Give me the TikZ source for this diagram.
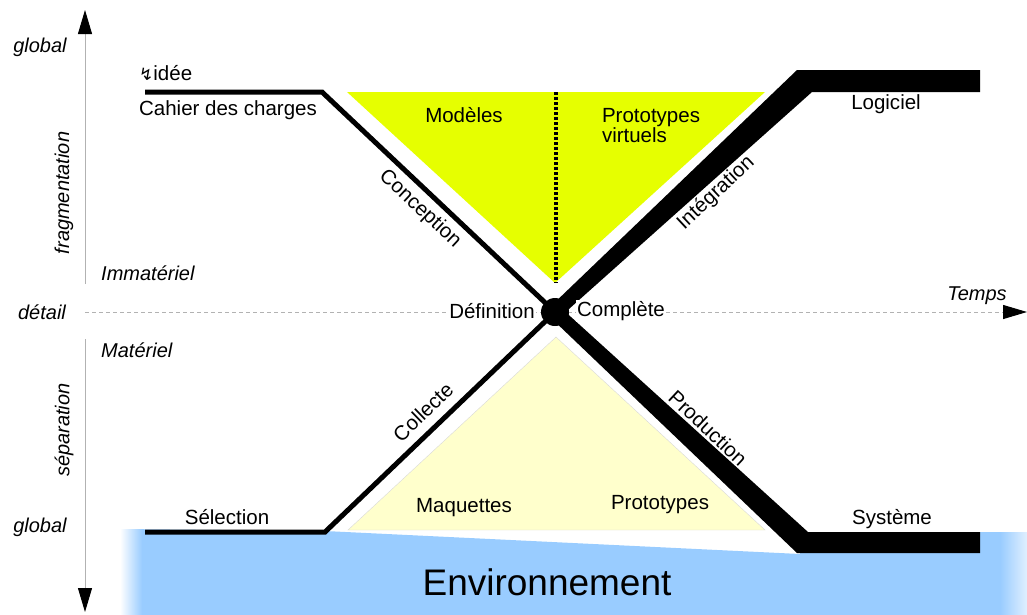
\documentclass[tikz,border=0pt]{standalone}
\usepackage{fontspec}
\setmainfont{Liberation Sans}
\newfontfamily\symfont{DejaVu Sans}
\usetikzlibrary{arrows.meta}
\definecolor{modelyellow}{RGB}{230,255,0}
\definecolor{maquetteyellow}{RGB}{255,255,204}
\definecolor{envblue}{RGB}{153,204,255}
\tikzset{
  lbl/.style={font=\fontsize{20.5}{20}\selectfont, inner sep=1pt},
  axlbl/.style={font=\fontsize{20}{20}\selectfont\itshape, inner sep=1pt},
  axisline/.style={draw=black!30, line width=1pt},
  tiptri/.style={-{Triangle[width=14pt,length=24pt,black]}},
  thinpath/.style={line width=5pt, line join=miter},
}
\begin{document}
\begin{tikzpicture}[x=1pt,y=-1pt]
\useasboundingbox (0,0) rectangle (1027,614);
% axes
\draw[axisline, tiptri] (85,284) -- (85,10);
\draw[axisline, tiptri] (85,339) -- (85,612);
\draw[axisline, dash pattern=on 4pt off 3pt, tiptri] (85,312) -- (1027,312);
% environnement
\fill[envblue] (120,529) -- (325,531) -- (800,554) -- (800,532) -- (1027,532) -- (1027,620) -- (120,620) -- cycle;
\shade[left color=white, right color=envblue] (120,529) rectangle (142,620);
\shade[left color=envblue, right color=envblue!30] (1000,532) rectangle (1027,620);
\node (env) at (547,582) {\fontsize{37}{40}\selectfont Environnement};
% triangles
\fill[modelyellow] (347,92) -- (765,92) -- (555,283) -- cycle;
\draw[line width=4pt, dash pattern=on 3pt off 2pt] (556,92) -- (556,283);
\filldraw[fill=maquetteyellow, draw=black!15] (556,337) -- (348,530) -- (765,530) -- cycle;
% chemins
\coordinate (c) at (555,312);
\draw[thinpath] (145,92) -- (322,92) -- (c);
\draw[thinpath] (145,532) -- (325,532) -- (c);
\fill (550,307) -- (797,70) -- (980,70) -- (980,92) -- (812,92) -- (560,317) -- cycle;
\fill (560,307) -- (808,532) -- (980,532) -- (980,553) -- (797,553) -- (550,317) -- cycle;
\fill (c) circle (14pt);
% axes labels
\node[axlbl] (gtop) at (40,47) {global};
\node[axlbl] (gbot) at (40,527) {global};
\node[axlbl] (detail) at (42,312) {détail};
\node[axlbl, rotate=90] (frag) at (64,193) {fragmentation};
\node[axlbl, rotate=90] (sep) at (64,430) {séparation};
\node[axlbl, anchor=west] (immat) at (100,273) {Immatériel};
\node[axlbl, anchor=west] (mat) at (100,350) {Matériel};
\node[axlbl] (temps) at (977,296) {Temps};
% labels
\node[lbl, anchor=west] (idee) at (138,73) {{\symfont\fontsize{17}{17}\selectfont ↯}idée};
\node[lbl] (cahier) at (228,110) {Cahier des charges};
\node[lbl] (modeles) at (464,115) {Modèles};
\node[lbl, align=left] (protov) at (651,126) {Prototypes\\virtuels};
\node[lbl] (logiciel) at (886,104) {Logiciel};
\node[lbl, rotate=-43] (conception) at (420,209) {Conception};
\node[lbl, rotate=43] (integration) at (716,193) {Intégration};
\node[lbl, fill=white] (definition) at (492,311) {Définition};
\node[lbl, fill=white] (complete) at (621,311) {Complète};
\node[lbl, rotate=44] (collecte) at (423,412) {Collecte};
\node[lbl, rotate=-43] (production) at (708,428) {Production};
\node[lbl] (maquettes) at (464,508) {Maquettes};
\node[lbl] (prototypes) at (660,505) {Prototypes};
\node[lbl] (selection) at (227,517) {Sélection};
\node[lbl] (systeme) at (892,519) {Système};
\end{tikzpicture}
\end{document}
